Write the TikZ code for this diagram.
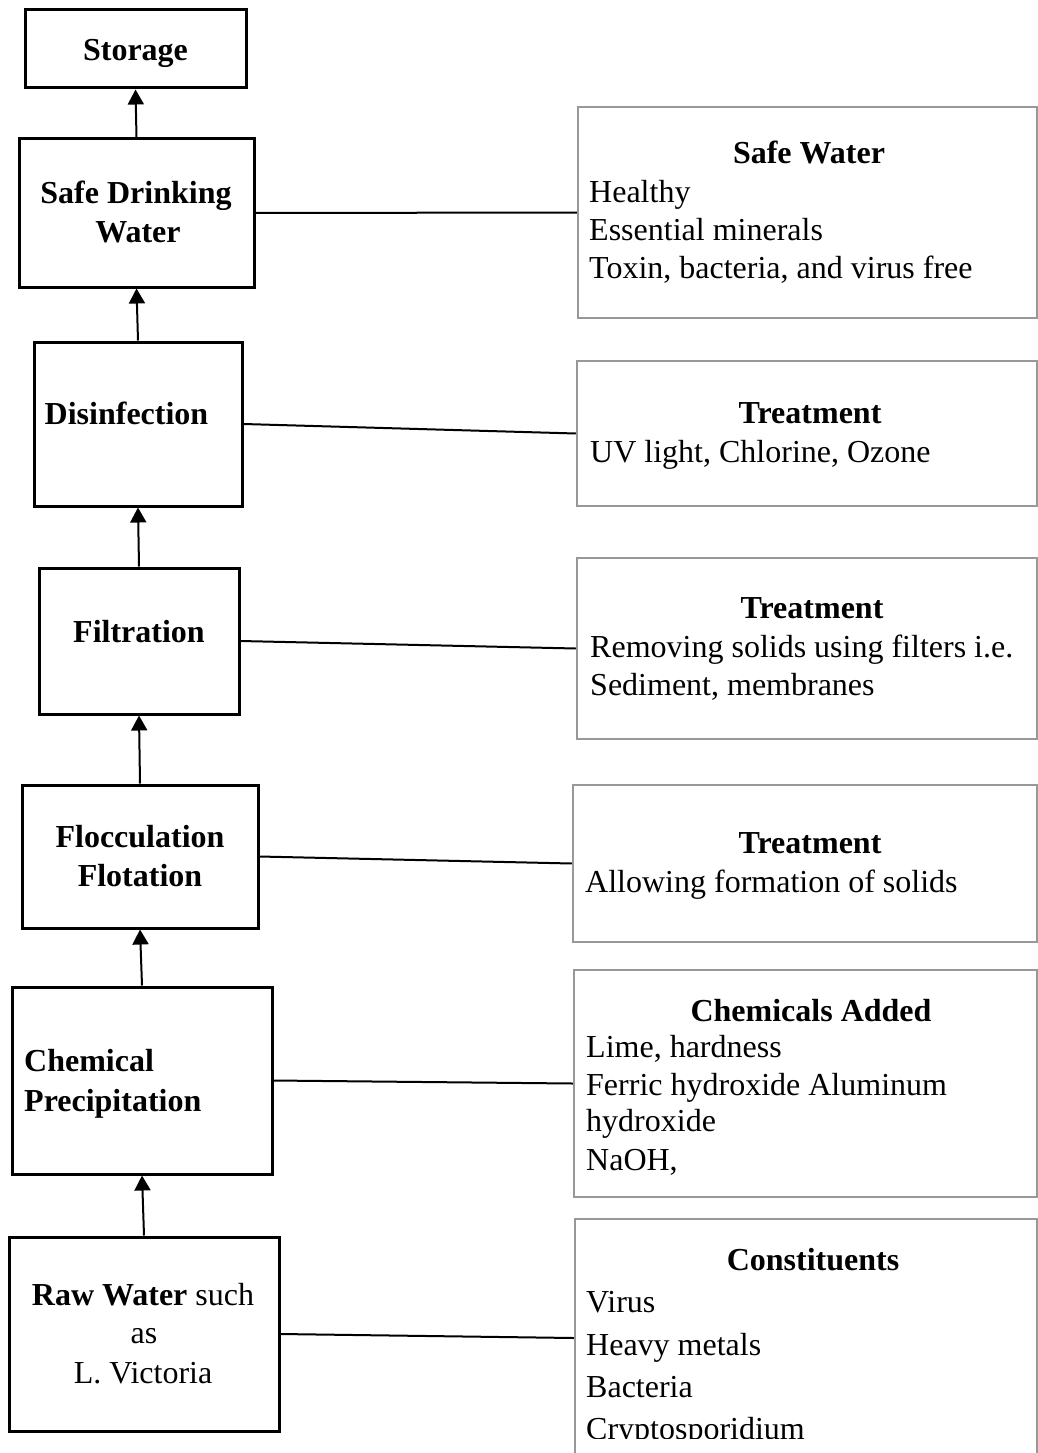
\documentclass[tikz,border=0pt]{standalone}
\usepackage{fontspec}
\setmainfont{Liberation Serif}
\usetikzlibrary{arrows.meta,fit}
\definecolor{boxgray}{RGB}{152,152,152}
\begin{document}
\begin{tikzpicture}[x=1pt,y=-1pt,
  every node/.style={font=\fontsize{32}{38}\selectfont},
  lbox/.style={draw=black, line width=3pt, inner sep=0pt},
  rbox/.style={draw=boxgray, line width=2.5pt, inner sep=0pt},
  lbl/.style={inner sep=0pt, anchor=base, font=\fontsize{32}{38}\selectfont\bfseries},
  reg/.style={inner sep=0pt, anchor=base, font=\fontsize{32}{38}\selectfont},
  head/.style={inner sep=0pt, anchor=base, font=\fontsize{32}{38}\selectfont\bfseries},
  body/.style={inner sep=0pt, anchor=base west, font=\fontsize{32}{38}\selectfont},
  arr/.style={line width=2pt, -{Triangle[width=16pt,length=15pt]}},
  conn/.style={line width=2pt}]
\fill[white] (0,0) rectangle (1038,1453);
\useasboundingbox (0,0) rectangle (1038,1453);
\clip (0,0) rectangle (1038,1453);

% left boxes
\node[lbox, fit={(25,10) (246,88)}] (storage) {};
\node[lbox, fit={(19,139) (254,287)}] (sdw) {};
\node[lbox, fit={(34,342) (242,506)}] (dis) {};
\node[lbox, fit={(39,568) (239,714)}] (fil) {};
\node[lbox, fit={(22,785) (258,928)}] (floc) {};
\node[lbox, fit={(12,987) (272,1174)}] (chem) {};
\node[lbox, fit={(9,1237) (279,1431)}] (raw) {};

% left texts
\node[lbl] (tstorage) at (135.5,61) {Storage};
\node[lbl] (tsdw1) at (136,203) {Safe Drinking};
\node[lbl] (tsdw2) at (138,242) {Water};
\node[lbl] (tdis) at (126.5,424) {Disinfection};
\node[lbl] (tfil) at (139,642) {Filtration};
\node[lbl] (tfl1) at (140,847) {Flocculation};
\node[lbl] (tfl2) at (140,886) {Flotation};
\node[lbl, anchor=base west] (tch1) at (24,1071) {Chemical};
\node[lbl, anchor=base west] (tch2) at (24,1111) {Precipitation};
\node[lbl] (traw1) at (143,1305) {Raw Water \textmd{such}};
\node[reg] (traw2) at (144,1343) {as};
\node[reg] (traw3) at (143,1383) {L. Victoria};

% right boxes
\node[rbox, fit={(578,107) (1037,318)}] (sw) {};
\node[rbox, fit={(577,361) (1037,506)}] (tr1) {};
\node[rbox, fit={(577,558) (1037,739)}] (tr2) {};
\node[rbox, fit={(573,785) (1037,942)}] (tr3) {};
\node[rbox, fit={(574,970) (1037,1197)}] (ca) {};
\node[rbox, fit={(575,1219) (1037,1457)}] (con) {};

% right texts
\node[head] (hsw) at (809,163) {Safe Water};
\node[body] (sw1) at (589,202) {Healthy};
\node[body] (sw2) at (589,240) {Essential minerals};
\node[body] (sw3) at (589,278) {Toxin, bacteria, and virus free};

\node[head] (htr1) at (810,423) {Treatment};
\node[body] (tr1a) at (590,462) {UV light, Chlorine, Ozone};

\node[head] (htr2) at (812,618) {Treatment};
\node[body] (tr2a) at (590,657) {Removing solids using filters i.e.};
\node[body] (tr2b) at (590,695) {Sediment, membranes};

\node[head] (htr3) at (810,853) {Treatment};
\node[body] (tr3a) at (585,892) {Allowing formation of solids};

\node[head] (hca) at (811,1021) {Chemicals Added};
\node[body] (ca1) at (586,1057) {Lime, hardness};
\node[body] (ca2) at (586,1095) {Ferric hydroxide Aluminum};
\node[body] (ca3) at (586,1131) {hydroxide};
\node[body] (ca4) at (586,1170) {NaOH,};

\node[head] (hcon) at (813,1270) {Constituents};
\node[body] (con1) at (586,1312) {Virus};
\node[body] (con2) at (586,1355) {Heavy metals};
\node[body] (con3) at (586,1397) {Bacteria};
\begin{scope}
\clip (575,1200) rectangle (1038,1438);
\node[body] (con4) at (586,1439) {Cryptosporidium};
\end{scope}

% arrows
\draw[arr] (sdw.north) -- (storage.south);
\draw[arr] (dis.north) -- (sdw.south);
\draw[arr] (fil.north) -- (dis.south);
\draw[arr] (floc.north) -- (fil.south);
\draw[arr] (chem.north) -- (floc.south);
\draw[arr] (raw.north) -- (chem.south);

% connectors
\draw[conn] (sdw.east) -- (sw.west);
\draw[conn] (dis.east) -- (tr1.west);
\draw[conn] (fil.east) -- (tr2.west);
\draw[conn] (floc.east) -- (tr3.west);
\draw[conn] (chem.east) -- (ca.west);
\draw[conn] (raw.east) -- (con.west);
\end{tikzpicture}
\end{document}
